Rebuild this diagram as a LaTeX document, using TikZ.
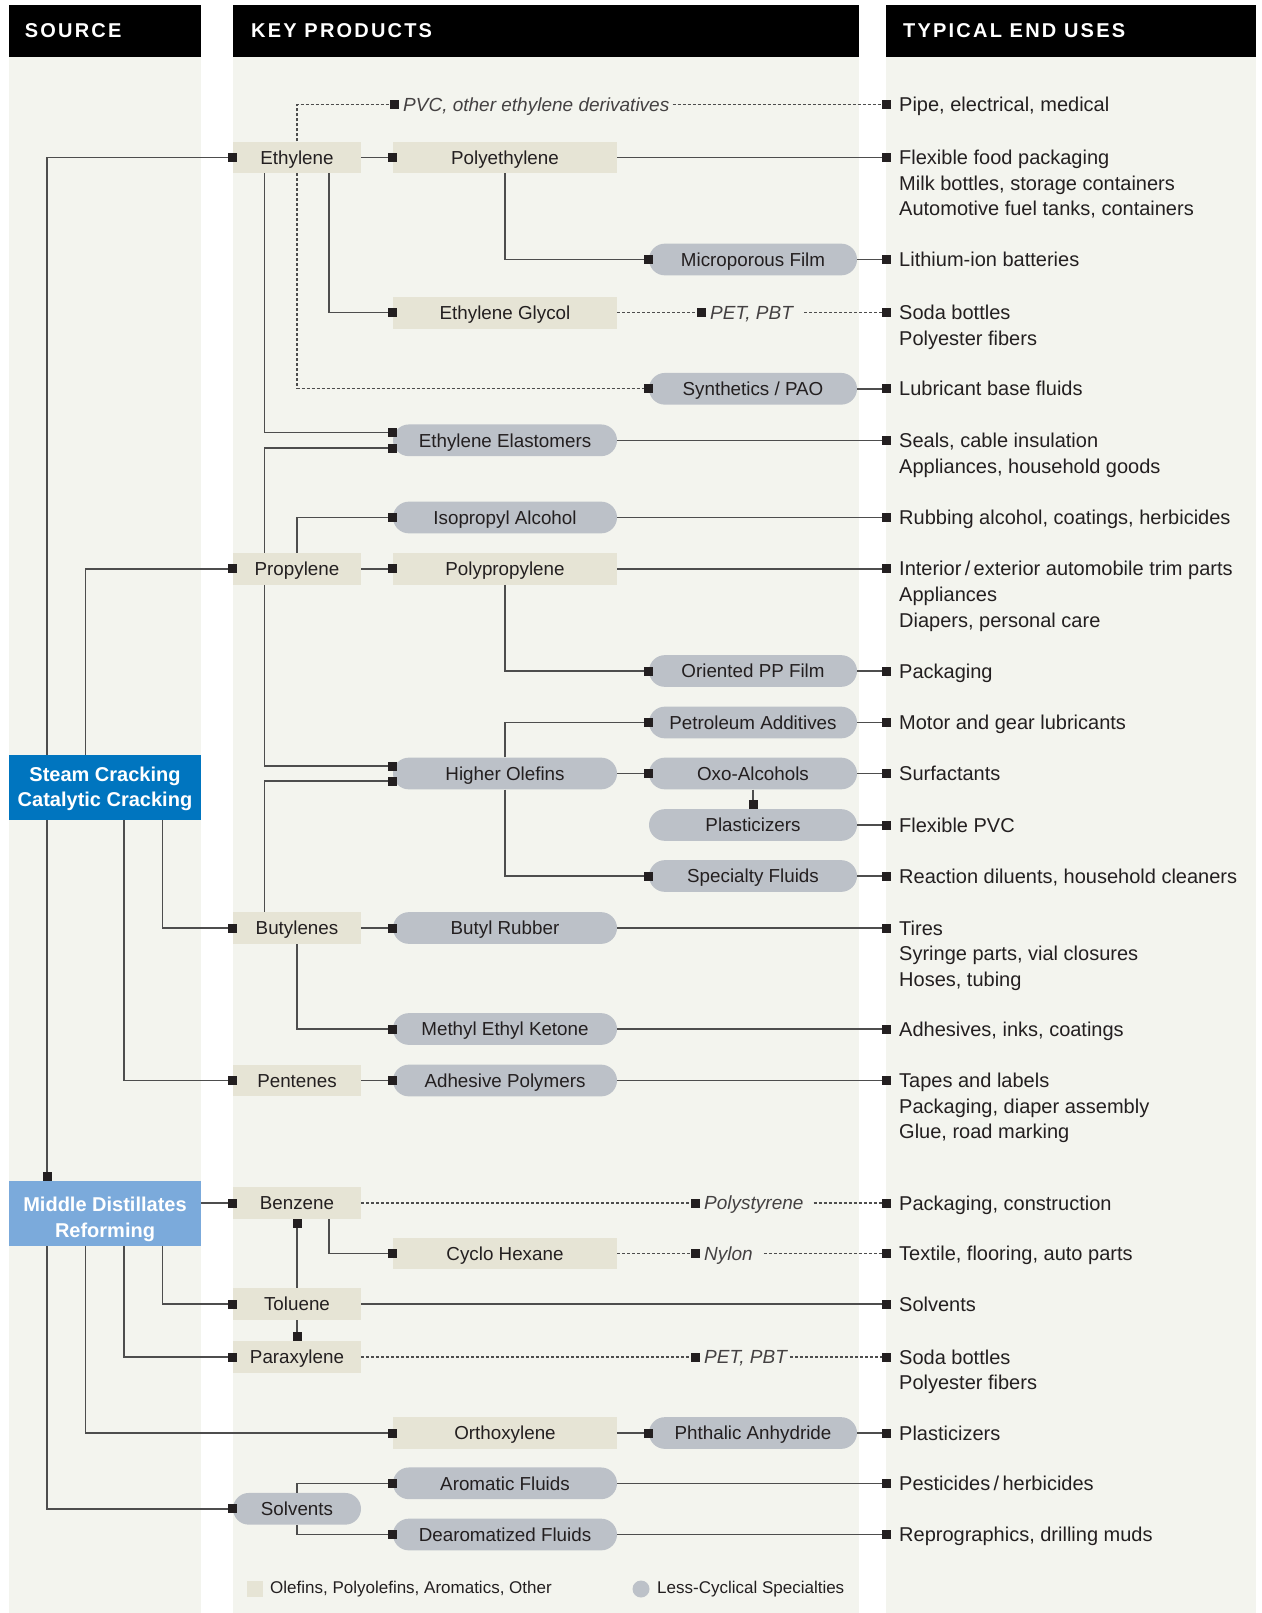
\documentclass[tikz,border=0pt]{standalone}
\usepackage{fontspec}
\setmainfont{Liberation Sans}
\newfontfamily\headfont[LetterSpace=11]{Liberation Sans}
\usetikzlibrary{arrows.meta,shapes.misc}
\definecolor{bgc}{HTML}{F3F4EE}
\definecolor{beige}{HTML}{E6E4D5}
\definecolor{pillc}{HTML}{BCC1C8}
\definecolor{blueA}{HTML}{0075BF}
\definecolor{blueB}{HTML}{7BAADB}
\definecolor{linec}{HTML}{4D4D4D}
\definecolor{mkc}{HTML}{231F20}
\definecolor{txt}{HTML}{231F20}
\begin{document}
\begin{tikzpicture}[x=1pt,y=-1pt,
 nf/.style={font=\fontsize{18.8}{22}\selectfont, text=txt},
 boxA/.style={nf, fill=beige, minimum height=31.7pt, minimum width=128pt, inner sep=0pt, text height=13.5pt, text depth=0pt},
 boxB/.style={boxA, minimum width=224pt},
 pillA/.style={boxA, rounded rectangle, fill=pillc},
 pillB/.style={pillA, minimum width=224pt},
 pillC/.style={pillA, minimum width=208pt},
 src/.style={fill=#1, minimum width=192pt, minimum height=64.7pt, inner sep=0pt, text=white, align=center, font=\bfseries\fontsize{20}{25.5}\selectfont},
 eu/.style={anchor=west, inner sep=0pt, text height=14pt, text depth=0pt, text=txt, font=\fontsize{20}{24}\selectfont},
 lbl/.style={anchor=west, inner sep=0pt, text height=13.5pt, text depth=0pt, text=txt!85, font=\itshape\fontsize{19}{22}\selectfont},
 head/.style={anchor=west, text=white, inner sep=0pt, font=\headfont\bfseries\fontsize{20}{22}\selectfont},
 leg/.style={anchor=west, inner sep=0pt, text=txt, font=\fontsize{17}{20}\selectfont},
 ln/.style={draw=linec, line width=1.4pt},
 conn/.style={ln, -{Square[length=9pt,width=9pt,color=mkc]}, shorten >=-4.5pt},
 vconn/.style={ln, -{Square[length=9pt,width=9pt,color=mkc]}},
 toeu/.style={ln, -{Square[length=9pt,width=9pt,color=mkc]}, shorten >=8.5pt},
 tolbl/.style={ln, -{Square[length=9pt,width=9pt,color=mkc]}, shorten >=4.5pt},
 dsh/.style={dash pattern=on 3pt off 2pt, line width=1.2pt},
]
\fill[white] (0,0) rectangle (1261,1613);
\useasboundingbox (0,0) rectangle (1261,1613);
% columns
\fill[bgc] (9,57) rectangle (201,1613);
\fill[black] (9,5) rectangle (201,57);
\fill[bgc] (232.5,57) rectangle (858.5,1613);
\fill[black] (232.5,5) rectangle (858.5,57);
\fill[bgc] (886,57) rectangle (1256,1613);
\fill[black] (886,5) rectangle (1256,57);
\node[head] (h1) at (24.7,31) {SOURCE};
\node[head] (h2) at (251,31) {KEY PRODUCTS};
\node[head] (h3) at (903,31) {TYPICAL END USES};

% sources
\node[src=blueA] (steam) at (105,787.4) {\rule{0pt}{17.5pt}Steam Cracking\\Catalytic Cracking};
\node[src=blueB] (md) at (105,1213.5) {\rule{0pt}{26pt}Middle Distillates\\Reforming};

% column A
\node[boxA] (eth) at (297,157.4) {Ethylene};
\node[boxA] (pro) at (297,568.8) {Propylene};
\node[boxA] (but) at (297,928) {Butylenes};
\node[boxA] (pen) at (297,1080.5) {Pentenes};
\node[boxA] (ben) at (297,1203) {Benzene};
\node[boxA] (tol) at (297,1304) {Toluene};
\node[boxA] (para) at (297,1357) {Paraxylene};
\node[pillA] (sol) at (297,1508.8) {Solvents};

% column B
\node[boxB] (pe) at (505,157.4) {Polyethylene};
\node[boxB] (eg) at (505,312.7) {Ethylene Glycol};
\node[pillB] (elast) at (505,440.3) {Ethylene Elastomers};
\node[pillB] (ipa) at (505,517.5) {Isopropyl Alcohol};
\node[boxB] (pp) at (505,568.8) {Polypropylene};
\node[pillB] (ho) at (505,773.5) {Higher Olefins};
\node[pillB] (br) at (505,928) {Butyl Rubber};
\node[pillB] (mek) at (505,1029) {Methyl Ethyl Ketone};
\node[pillB] (ap) at (505,1080.5) {Adhesive Polymers};
\node[boxB] (ch) at (505,1253.5) {Cyclo Hexane};
\node[boxB] (ortho) at (505,1433) {Orthoxylene};
\node[pillB] (arom) at (505,1483.3) {Aromatic Fluids};
\node[pillB] (dearo) at (505,1534.5) {Dearomatized Fluids};

% column C
\node[pillC] (mpf) at (753,259.5) {Microporous Film};
\node[pillC] (syn) at (753,388.8) {Synthetics / PAO};
\node[pillC] (opp) at (753,671) {Oriented PP Film};
\node[pillC] (pa) at (753,722.5) {Petroleum Additives};
\node[pillC] (oxo) at (753,773.5) {Oxo-Alcohols};
\node[pillC] (plast) at (753,825) {Plasticizers};
\node[pillC] (sf) at (753,876) {Specialty Fluids};
\node[pillC] (phth) at (753,1433) {Phthalic Anhydride};

% inline labels
\node[lbl] (pvc) at (403,104.9) {PVC, other ethylene derivatives};
\node[lbl] (pet1) at (710,312.7) {PET, PBT};
\node[lbl] (ps) at (704,1203) {Polystyrene};
\node[lbl] (ny) at (704,1253.5) {Nylon};
\node[lbl] (pet2) at (704,1357) {PET, PBT};

% end uses
\node[eu] (u1) at (899,104.9) {Pipe, electrical, medical};
\node[eu] (u2) at (899,157.4) {Flexible food packaging};
\node[eu] (u2b) at (899,183.1) {Milk bottles, storage containers};
\node[eu] (u2c) at (899,208.8) {Automotive fuel tanks, containers};
\node[eu] (u3) at (899,259.5) {Lithium-ion batteries};
\node[eu] (u4) at (899,312.7) {Soda bottles};
\node[eu] (u4b) at (899,338.4) {Polyester fibers};
\node[eu] (u5) at (899,388.8) {Lubricant base fluids};
\node[eu] (u6) at (899,440.3) {Seals, cable insulation};
\node[eu] (u6b) at (899,466) {Appliances, household goods};
\node[eu] (u7) at (899,517.5) {Rubbing alcohol, coatings, herbicides};
\node[eu] (u8) at (899,568.8) {Interior\,/\,exterior automobile trim parts};
\node[eu] (u8b) at (899,594.5) {Appliances};
\node[eu] (u8c) at (899,620.2) {Diapers, personal care};
\node[eu] (u9) at (899,671) {Packaging};
\node[eu] (u10) at (899,722.5) {Motor and gear lubricants};
\node[eu] (u11) at (899,773.5) {Surfactants};
\node[eu] (u12) at (899,825) {Flexible PVC};
\node[eu] (u13) at (899,876) {Reaction diluents, household cleaners};
\node[eu] (u14) at (899,928) {Tires};
\node[eu] (u14b) at (899,953.7) {Syringe parts, vial closures};
\node[eu] (u14c) at (899,979.4) {Hoses, tubing};
\node[eu] (u15) at (899,1029) {Adhesives, inks, coatings};
\node[eu] (u16) at (899,1080.5) {Tapes and labels};
\node[eu] (u16b) at (899,1106.2) {Packaging, diaper assembly};
\node[eu] (u16c) at (899,1131.9) {Glue, road marking};
\node[eu] (u17) at (899,1203) {Packaging, construction};
\node[eu] (u18) at (899,1253.5) {Textile, flooring, auto parts};
\node[eu] (u19) at (899,1304) {Solvents};
\node[eu] (u20) at (899,1357) {Soda bottles};
\node[eu] (u20b) at (899,1382.7) {Polyester fibers};
\node[eu] (u21) at (899,1433) {Plasticizers};
\node[eu] (u22) at (899,1483.3) {Pesticides\,/\,herbicides};
\node[eu] (u23) at (899,1534.5) {Reprographics, drilling muds};

% legend
\fill[beige] (247,1581) rectangle (263,1597);
\node[leg] (lg1) at (270,1589) {Olefins, Polyolefins, Aromatics, Other};
\fill[pillc] (641,1589) circle (8.5);
\node[leg] (lg2) at (657,1589) {Less-Cyclical Specialties};

% ---- connectors: sources
\draw[conn] ([xshift=-58pt]steam.north) |- (eth.west);
\draw[conn] ([xshift=-19.3pt]steam.north) |- (pro.west);
\draw[conn] ([xshift=57.3pt]steam.south) |- (but.west);
\draw[conn] ([xshift=19pt]steam.south) |- (pen.west);
\draw[vconn] ([xshift=-58pt]steam.south) -- ([xshift=-58pt]md.north);
\draw[conn] (md.east |- ben.west) -- (ben.west);
\draw[conn] ([xshift=57.3pt]md.south) |- (tol.west);
\draw[conn] ([xshift=19pt]md.south) |- (para.west);
\draw[conn] ([xshift=-19.3pt]md.south) |- (ortho.west);
\draw[conn] ([xshift=-58pt]md.south) |- (sol.west);

% ethylene
\draw[conn] (eth.east) -- (pe.west);
\draw[conn] ([xshift=-32.3pt]eth.south) |- ([yshift=7.8pt]elast.west);
\draw[conn] ([xshift=32pt]eth.south) |- (eg.west);
\draw[tolbl,dsh] (eth.north) |- (pvc.west);
\draw[conn,dsh] (eth.south) |- (syn.west);
\draw[conn] (pe.south) |- (mpf.west);
\draw[tolbl,dsh] (eg.east) -- (pet1.west);
\draw[toeu,dsh,shorten <=3pt] (pvc.east) -- (u1.west);
\draw[toeu,dsh,shorten <=11pt] (pet1.east) -- (u4.west);
\draw[toeu] (pe.east) -- (u2.west);
\draw[toeu] (mpf.east) -- (u3.west);
\draw[toeu] (syn.east) -- (u5.west);
\draw[toeu] (elast.east) -- (u6.west);

% propylene
\draw[conn] ([xshift=-32.3pt]pro.north) |- ([yshift=-7.8pt]elast.west);
\draw[conn] (pro.north) |- (ipa.west);
\draw[conn] ([xshift=-32.3pt]pro.south) |- ([yshift=7.5pt]ho.west);
\draw[conn] (pro.east) -- (pp.west);
\draw[conn] (pp.south) |- (opp.west);
\draw[toeu] (ipa.east) -- (u7.west);
\draw[toeu] (pp.east) -- (u8.west);
\draw[toeu] (opp.east) -- (u9.west);

% higher olefins
\draw[conn] (ho.north) |- (pa.west);
\draw[conn] (ho.south) |- (sf.west);
\draw[conn] (ho.east) -- (oxo.west);
\draw[vconn] (oxo.south) -- (plast.north);
\draw[toeu] (pa.east) -- (u10.west);
\draw[toeu] (oxo.east) -- (u11.west);
\draw[toeu] (plast.east) -- (u12.west);
\draw[toeu] (sf.east) -- (u13.west);

% butylenes, pentenes
\draw[conn] ([xshift=-32.3pt]but.north) |- ([yshift=-7.5pt]ho.west);
\draw[conn] (but.east) -- (br.west);
\draw[conn] (but.south) |- (mek.west);
\draw[toeu] (br.east) -- (u14.west);
\draw[toeu] (mek.east) -- (u15.west);
\draw[conn] (pen.east) -- (ap.west);
\draw[toeu] (ap.east) -- (u16.west);

% aromatics
\draw[tolbl,dsh] (ben.east) -- (ps.west);
\draw[toeu,dsh,shorten <=10pt] (ps.east) -- (u17.west);
\draw[conn] ([xshift=32pt]ben.south) |- (ch.west);
\draw[tolbl,dsh] (ch.east) -- (ny.west);
\draw[toeu,dsh,shorten <=11pt] (ny.east) -- (u18.west);
\draw[vconn] (tol.north) -- (ben.south);
\draw[toeu] (tol.east) -- (u19.west);
\draw[vconn] (tol.south) -- (para.north);
\draw[tolbl,dsh] (para.east) -- (pet2.west);
\draw[toeu,dsh,shorten <=3pt] (pet2.east) -- (u20.west);
\draw[conn] (ortho.east) -- (phth.west);
\draw[toeu] (phth.east) -- (u21.west);
\draw[conn] (sol.north) |- (arom.west);
\draw[conn] (sol.south) |- (dearo.west);
\draw[toeu] (arom.east) -- (u22.west);
\draw[toeu] (dearo.east) -- (u23.west);
\end{tikzpicture}
\end{document}
